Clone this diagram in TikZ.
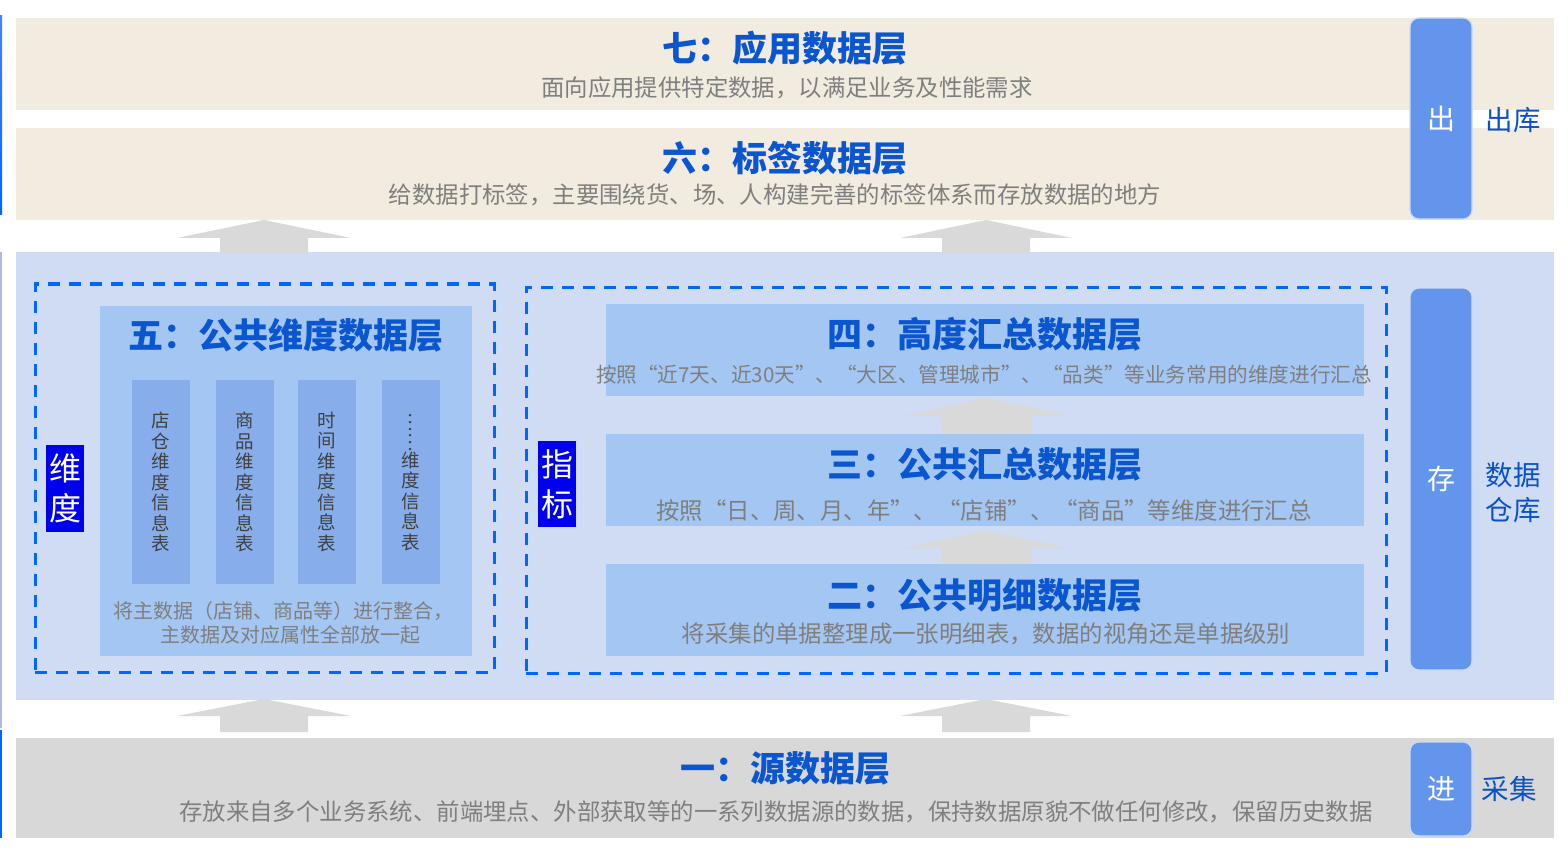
\documentclass[tikz,border=0pt]{standalone}
\usepackage{fontspec}
\setmainfont{Noto Sans CJK SC}
\definecolor{beige}{HTML}{F2EBDF}
\definecolor{midband}{HTML}{D0DCF4}
\definecolor{innerbox}{HTML}{A4C6F2}
\definecolor{colbox}{HTML}{87AEEA}
\definecolor{dashblue}{HTML}{0066FF}
\definecolor{srcgray}{HTML}{D8D8D8}
\definecolor{arrowgray}{HTML}{D9D9D9}
\definecolor{sidebox}{HTML}{6495ED}
\definecolor{sideedge}{HTML}{C9DBF7}
\definecolor{titleblue}{HTML}{0A55D0}
\definecolor{subgray}{HTML}{7F7F7F}
\definecolor{tagblue}{HTML}{0000EE}
\definecolor{coltext}{HTML}{404040}
\definecolor{sidetext}{HTML}{0A50C8}
\newcommand{\upblock}[7]{%
  \fill[arrowgray] (#1,#2) -- (#1+#5,#3) -- (#1+#6,#3) -- (#1+#6,#4) -- (#1-#6,#4) -- (#1-#6,#3) -- (#1-#5,#3) -- cycle;}
\begin{document}
\begin{tikzpicture}[x=1pt,y=-1pt,
  box/.style={rectangle,inner sep=0pt,outer sep=0pt,draw=none},
  dashbox/.style={rectangle,inner sep=0pt,outer sep=0pt,draw=dashblue,line width=3pt,dash pattern=on 12pt off 9pt},
  ttl/.style={font=\bfseries\fontsize{35}{40}\selectfont,text=titleblue,inner sep=0pt},
  sub/.style={font=\fontsize{23.4}{27}\selectfont,text=subgray,inner sep=0pt},
  coltxt/.style={font=\fontsize{18.5}{20.5}\selectfont,text=coltext,align=center,inner sep=0pt},
  tag/.style={box,fill=tagblue,text=white,font=\fontsize{32}{40}\selectfont,align=center,minimum width=38pt},
  side/.style={rectangle,rounded corners=9pt,fill=sidebox,draw=sideedge,line width=1.2pt,minimum width=62pt,text=white,font=\fontsize{28}{30}\selectfont,inner sep=0pt},
  sidelbl/.style={text=sidetext,font=\fontsize{27.5}{35}\selectfont,align=center,inner sep=0pt}
]
\useasboundingbox (0,0) rectangle (1568,850);
\fill[white] (0,0) rectangle (1568,850);
% left thin strip
\shade[top color=white!60!cyan!50!blue, bottom color=blue!60!cyan] (0,16) rectangle (2,215);
\fill[cyan!25!blue!30] (0,252) rectangle (2,728);
\fill[blue!60!cyan] (0,730) rectangle (2,838);

% bands
\node[box,fill=beige,minimum width=1538pt,minimum height=92pt] (l7) at (785,64) {};
\node[box,fill=beige,minimum width=1538pt,minimum height=92pt] (l6) at (785,174) {};
\node[box,fill=midband,minimum width=1538pt,minimum height=448pt] (mid) at (785,476) {};
\node[box,fill=srcgray,minimum width=1538pt,minimum height=100pt] (l1) at (785,788) {};

% arrows between bands
\upblock{264}{220}{238}{254}{87}{44}{}
\upblock{986}{220}{238}{254}{86}{44}{}
\upblock{264}{699}{716}{732}{87}{44}{}
\upblock{986}{699}{716}{732}{86}{44}{}

% dashed groups
\node[dashbox,minimum width=459pt,minimum height=388pt] (dimgrp) at (264.5,478) {};
\node[dashbox,minimum width=860pt,minimum height=386pt] (metgrp) at (956,480) {};

% layer five
\node[box,fill=innerbox,minimum width=372pt,minimum height=350pt] (l5) at (286,481) {};
\node[ttl] (t5) at (286,335) {五：公共维度数据层};
\node[box,fill=colbox,minimum width=58pt,minimum height=204pt] (c1) at (161,482) {};
\node[box,fill=colbox,minimum width=58pt,minimum height=204pt] (c2) at (245,482) {};
\node[box,fill=colbox,minimum width=58pt,minimum height=204pt] (c3) at (327,482) {};
\node[box,fill=colbox,minimum width=58pt,minimum height=204pt] (c4) at (411,482) {};
\node[coltxt] (c1t) at (c1) {店\\仓\\维\\度\\信\\息\\表};
\node[coltxt] (c2t) at (c2) {商\\品\\维\\度\\信\\息\\表};
\node[coltxt] (c3t) at (c3) {时\\间\\维\\度\\信\\息\\表};
\node[coltxt,rotate=-90] (c4d) at (411,432) {……};
\node[coltxt] (c4t) at (411,501) {维\\度\\信\\息\\表};
\node[sub,font=\fontsize{20}{24}\selectfont,align=center] (d5) at (283,623) {将主数据（店铺、商品等）进行整合，\\\hspace*{14pt}主数据及对应属性全部放一起};
\node[tag,minimum height=87pt] (tdim) at (65,488.5) {维\\度};

% metric layers
\node[box,fill=innerbox,minimum width=758pt,minimum height=92pt] (l4) at (985,350) {};
\node[box,fill=innerbox,minimum width=758pt,minimum height=92pt] (l3) at (985,480) {};
\node[box,fill=innerbox,minimum width=758pt,minimum height=92pt] (l2) at (985,610) {};
\upblock{986}{398}{416}{434}{84}{45}{}
\upblock{986}{531}{548}{564}{84}{45}{}
\node[ttl] (t4) at (985,334) {四：高度汇总数据层};
\node[sub,font=\fontsize{20.6}{24}\selectfont] (s4) at (984,375) {按照“近7天、近30天”、“大区、管理城市”、“品类”等业务常用的维度进行汇总};
\node[ttl] (t3) at (985,464) {三：公共汇总数据层};
\node[sub] (s3) at (984,511) {按照“日、周、月、年”、“店铺”、“商品”等维度进行汇总};
\node[ttl] (t2) at (985,595) {二：公共明细数据层};
\node[sub] (s2) at (986,634) {将采集的单据整理成一张明细表，数据的视角还是单据级别};
\node[tag,minimum height=86pt] (tmet) at (557,484) {指\\标};

% top layers text
\node[ttl] (t7) at (785,48) {七：应用数据层};
\node[sub] (s7) at (787,88) {面向应用提供特定数据，以满足业务及性能需求};
\node[ttl] (t6) at (785,158) {六：标签数据层};
\node[sub] (s6) at (775,195) {给数据打标签，主要围绕货、场、人构建完善的标签体系而存放数据的地方};
% source layer text
\node[ttl] (t1) at (785,768) {一：源数据层};
\node[sub] (s1) at (776,812) {存放来自多个业务系统、前端埋点、外部获取等的一系列数据源的数据，保持数据原貌不做任何修改，保留历史数据};

% side boxes
\node[side,minimum height=201pt] (out) at (1441,118.5) {出};
\node[side,minimum height=382pt] (store) at (1441,479) {存};
\node[side,minimum height=94pt] (in) at (1441,789) {进};
\node[sidelbl] (outl) at (1513,120) {出库};
\node[sidelbl] (storel) at (1513,493) {数据\\仓库};
\node[sidelbl] (inl) at (1509,789) {采集};
\end{tikzpicture}
\end{document}
